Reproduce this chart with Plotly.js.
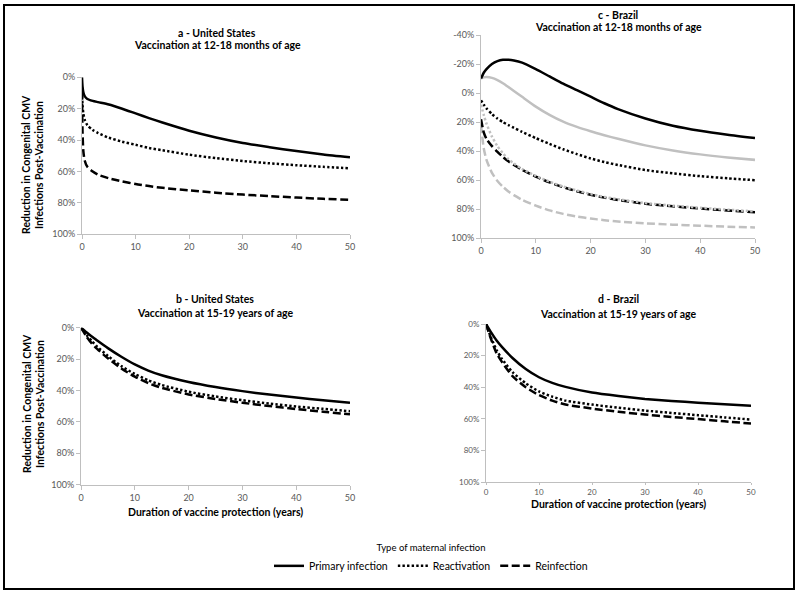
<!DOCTYPE html>
<html>
<head>
<meta charset="utf-8">
<script src="https://cdn.plot.ly/plotly-3.0.1.min.js"></script>
<style>html,body{margin:0;padding:0;background:#fff;}#chart{width:800px;height:595px;}</style>
</head>
<body>
<div id="chart"></div>
<script>
// ---------- data ----------
const seriesNames = ["Primary infection", "Reactivation", "Reinfection"];

// Panel a – United States, vaccination at 12-18 months
const tA = [0, 0.1, 0.25, 0.5, 1, 2, 3, 5, 7.5, 10, 12.5, 15, 20, 25, 30, 35, 40, 45, 50];
const aPrimary      = [0, 6, 9.5, 12, 13.8, 15, 15.8, 17.3, 20, 23, 26, 28.8, 34, 38.3, 41.8, 44.5, 47, 49.2, 51];
const aReactivation = [9, 18, 23, 27, 30.5, 33.5, 35.5, 38.5, 41, 43, 45, 46.5, 49.3, 51.5, 53.3, 54.8, 56, 57, 58];
const aReinfection  = [9, 35, 47, 53, 57, 60, 62, 64.3, 66.3, 68, 69.3, 70.4, 72, 73.5, 74.7, 75.7, 76.6, 77.4, 78];

// Panel b – United States, vaccination at 15-19 years
const tB = [0, 1, 2, 3, 5, 7.5, 10, 12.5, 15, 20, 25, 30, 35, 40, 45, 50];
const bPrimary      = [0, 2.9, 5.6, 8.1, 13, 18.5, 23.4, 27.3, 30.3, 34.6, 37.8, 40.4, 42.6, 44.5, 46.2, 47.8];
const bReactivation = [0, 4.5, 8.5, 12, 18, 24.5, 29.5, 33.5, 36.5, 40.8, 43.8, 46.2, 48.3, 50.2, 51.7, 53.2];
const bReinfection  = [0, 5.5, 10, 13.5, 19.5, 26, 31.2, 35.3, 38.3, 42.5, 45.4, 47.8, 49.9, 51.8, 53.5, 55.2];

// Panel c – Brazil, vaccination at 12-18 months (black and grey variants)
const tC = [0, 0.5, 1, 2, 3, 4, 5, 6, 7.5, 10, 12.5, 15, 17.5, 20, 22.5, 25, 30, 35, 40, 45, 50];
const cPrimary          = [-10, -14, -16.5, -20, -22, -22.9, -23, -22.5, -21, -16.5, -11.5, -6.5, -2, 2.5, 7, 11, 17.5, 22.5, 26, 28.7, 31];
const cPrimaryGrey      = [-10, -10.8, -11, -10.5, -9, -6.8, -4.2, -1.5, 2.6, 9.3, 15, 19.7, 23.3, 26.3, 29, 31.5, 36, 39.5, 42.2, 44.3, 46];
const cReactivation     = [5, 8, 10.5, 14.5, 17.5, 20, 22, 24, 26.7, 31, 35, 38.7, 42, 45, 47.5, 49.5, 53, 55.3, 57.2, 58.7, 60];
const cReactivationGrey = [8, 15, 21, 30, 36.5, 41.5, 45.5, 48.5, 52.3, 57, 61, 64.3, 67.1, 69.5, 71.5, 73.1, 75.7, 77.5, 79, 80.3, 81.5];
const cReinfection      = [18, 27, 31.5, 36.5, 40.5, 44, 47, 49.5, 52.8, 57.5, 61.5, 64.8, 67.6, 70, 72, 73.6, 76.2, 78, 79.5, 80.8, 82];
const cReinfectionGrey  = [22, 38, 46, 55, 60.5, 64.5, 67.8, 70.3, 73.5, 77.5, 80.8, 83.2, 85, 86.4, 87.5, 88.4, 89.7, 90.6, 91.3, 92, 92.5];

// Panel d – Brazil, vaccination at 15-19 years
const tD = [0, 1, 2, 3, 5, 7.5, 10, 12.5, 15, 20, 25, 30, 35, 40, 45, 50];
const dPrimary      = [0, 5.5, 10.5, 14.5, 21.5, 28.5, 33.7, 37.3, 39.8, 43.4, 45.6, 47.4, 48.7, 49.8, 50.8, 51.8];
const dReactivation = [0, 9, 16.5, 22, 30.5, 37.5, 42.7, 46, 48.5, 51, 53, 54.8, 56.3, 57.7, 59.1, 60.5];
const dReinfection  = [0, 10, 18.5, 24, 33, 40, 45, 48.5, 51, 53.5, 55.6, 57.3, 58.8, 60.2, 61.6, 63];

const yTickVals   = [0, 20, 40, 60, 80, 100];
const yTickText   = ["0%", "20%", "40%", "60%", "80%", "100%"];
const yTickValsC  = [-40, -20, 0, 20, 40, 60, 80, 100];
const yTickTextC  = ["-40%", "-20%", "0%", "20%", "40%", "60%", "80%", "100%"];
const xTickVals   = [0, 10, 20, 30, 40, 50];

const panelTitles = [
  ["a - United States", "Vaccination at 12-18 months of age"],
  ["c - Brazil", "Vaccination at 12-18 months of age"],
  ["b - United States", "Vaccination at 15-19 years of age"],
  ["d - Brazil", "Vaccination at 15-19 years of age"]
];
const yTitle = ["Reduction in Congenital CMV", "Infections Post-Vaccination"];
const xTitle = "Duration of vaccine protection (years)";
const legendTitle = "Type of maternal infection";

// ---------- styling ----------
const FONT = "Lato, 'Open Sans', sans-serif";
const BLACK = "#000000", GREY = "#c0c0c0";
const styles = [
  {dash: "solid", width: 2.5},
  {dash: "2.4px,2.2px", width: 2.5},
  {dash: "8px,3.5px", width: 2.5}
];

function mk(x, y, idx, color, xa, ya, legend) {
  return {
    x: x, y: y, type: "scatter", mode: "lines",
    name: seriesNames[idx], legendgroup: seriesNames[idx],
    showlegend: !!legend,
    line: {color: color, width: styles[idx].width, dash: styles[idx].dash, shape: "spline", smoothing: 0.6},
    xaxis: xa, yaxis: ya, hoverinfo: "skip"
  };
}

const traces = [
  mk(tA, aPrimary, 0, BLACK, "x", "y", true),
  mk(tA, aReactivation, 1, BLACK, "x", "y", true),
  mk(tA, aReinfection, 2, BLACK, "x", "y", true),

  mk(tC, cReinfectionGrey, 2, GREY, "x2", "y2"),
  mk(tC, cPrimaryGrey, 0, GREY, "x2", "y2"),
  mk(tC, cReactivation, 1, BLACK, "x2", "y2"),
  mk(tC, cReinfection, 2, BLACK, "x2", "y2"),
  mk(tC, cReactivationGrey, 1, GREY, "x2", "y2"),
  mk(tC, cPrimary, 0, BLACK, "x2", "y2"),

  mk(tB, bPrimary, 0, BLACK, "x3", "y3"),
  mk(tB, bReactivation, 1, BLACK, "x3", "y3"),
  mk(tB, bReinfection, 2, BLACK, "x3", "y3"),

  mk(tD, dPrimary, 0, BLACK, "x4", "y4"),
  mk(tD, dReactivation, 1, BLACK, "x4", "y4"),
  mk(tD, dReinfection, 2, BLACK, "x4", "y4")
];

const W = 800, H = 595;
const px = v => v / W;
const py = v => 1 - v / H;

function xax(d0, d1, anchor, fs, tl) {
  return {
    domain: [px(d0), px(d1)], anchor: anchor, range: [0, 50],
    tickvals: xTickVals, showgrid: false, zeroline: false,
    showline: true, linecolor: "#bfbfbf", linewidth: 1,
    ticks: "outside", ticklen: tl, tickcolor: "#bfbfbf",
    tickfont: {family: FONT, size: fs, color: "#595959"}
  };
}
function yax(top, bot, anchor, range, vals, text, fs) {
  return {
    domain: [py(bot), py(top)], anchor: anchor, range: range,
    tickvals: vals, ticktext: text, showgrid: false, zeroline: false,
    showline: true, linecolor: "#bfbfbf", linewidth: 1,
    ticks: "outside", ticklen: 4, tickcolor: "#bfbfbf",
    tickfont: {family: FONT, size: fs, color: "#595959"}
  };
}

const annotations = [];
function ann(text, x, y, size, bold, angle) {
  annotations.push({
    text: bold ? "<b>" + text + "</b>" : text,
    xref: "paper", yref: "paper", x: px(x), y: py(y),
    xanchor: "center", yanchor: "middle", showarrow: false,
    textangle: angle || 0,
    font: {family: FONT, size: size, color: "#000"}
  });
}
// panel titles
ann(panelTitles[0][0], 217, 33, 10.5, true);
ann(panelTitles[0][1], 217, 45, 10.5, true);
ann(panelTitles[1][0], 618, 15, 10.5, true);
ann(panelTitles[1][1], 618, 27, 10.5, true);
ann(panelTitles[2][0], 215, 299, 10.5, true);
ann(panelTitles[2][1], 215, 313, 10.5, true);
ann(panelTitles[3][0], 618, 299, 10.5, true);
ann(panelTitles[3][1], 618, 314, 10.5, true);
// y titles
ann(yTitle[0], 26, 165, 10.5, true, -90);
ann(yTitle[1], 39, 165, 10.5, true, -90);
ann(yTitle[0], 27, 404, 10.5, true, -90);
ann(yTitle[1], 40, 404, 10.5, true, -90);
// x titles
ann(xTitle, 215, 512, 10.5, true);
ann(xTitle, 618, 504, 10.5, true);

const layout = {
  width: W, height: H,
  margin: {l: 0, r: 0, t: 0, b: 0},
  paper_bgcolor: "#fff", plot_bgcolor: "rgba(0,0,0,0)",
  font: {family: FONT, color: "#000"},
  xaxis:  xax(82, 350, "y", 9, 4),
  yaxis:  yax(77.3, 234.3, "x", [100, 0], yTickVals, yTickText, 9),
  xaxis2: xax(481, 755, "y2", 9, 4),
  yaxis2: yax(35, 238.3, "x2", [100, -40], yTickValsC, yTickTextC, 9),
  xaxis3: xax(81, 350, "y3", 9, 4),
  yaxis3: yax(327.7, 484.7, "x3", [100, 0], yTickVals, yTickText, 9),
  xaxis4: xax(486, 751, "y4", 8, 2),
  yaxis4: yax(324, 482, "x4", [100, 0], yTickVals, yTickText, 8),
  annotations: annotations,
  showlegend: true,
  legend: {
    orientation: "h", x: px(431), xanchor: "center", y: py(539), yanchor: "top",
    font: {family: FONT, size: 10.5, color: "#000"},
    title: {text: legendTitle, side: "top center", font: {family: FONT, size: 9.5, color: "#000"}},
    bgcolor: "rgba(0,0,0,0)", itemwidth: 30, tracegroupgap: 0
  },
  shapes: [{
    type: "rect", xref: "paper", yref: "paper",
    x0: px(4), x1: px(794), y0: py(589), y1: py(5),
    line: {color: "#000", width: 2}, fillcolor: "rgba(0,0,0,0)"
  }]
};

Plotly.newPlot("chart", traces, layout, {staticPlot: true, displayModeBar: false});
</script>
</body>
</html>
